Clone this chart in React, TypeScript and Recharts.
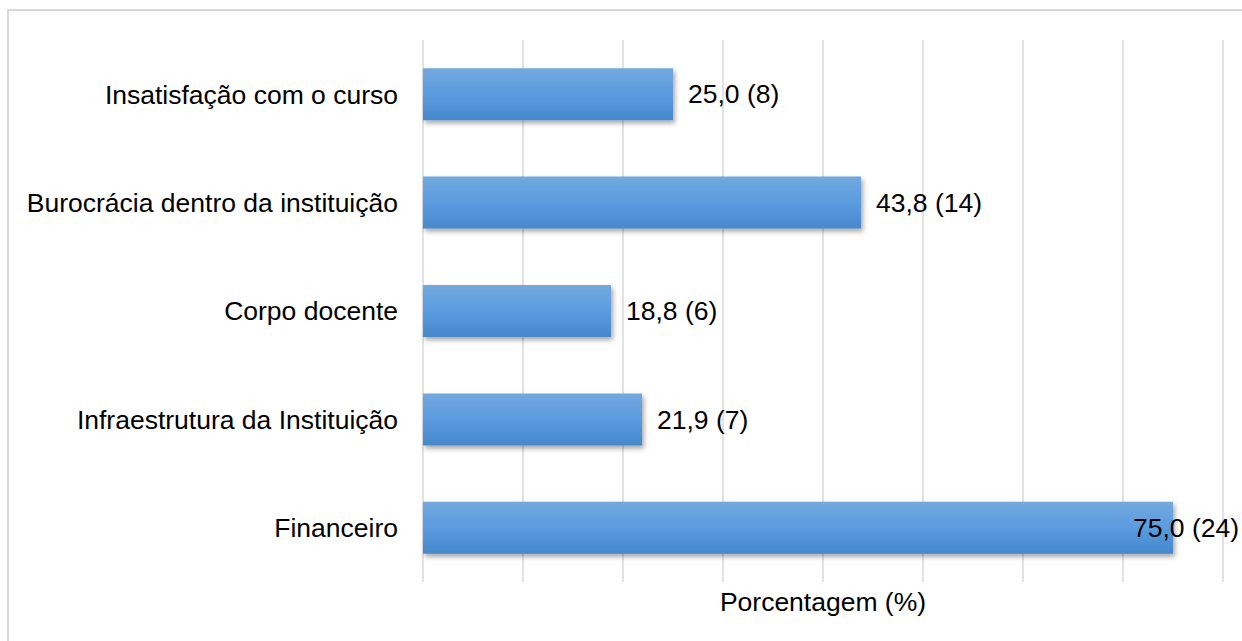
import { Bar, BarChart, CartesianGrid, LabelList, XAxis, YAxis } from "recharts";

const categories = [
  "Insatisfação com o curso",
  "Burocrácia dentro da instituição",
  "Corpo docente",
  "Infraestrutura da Instituição",
  "Financeiro",
];
const percentages = [25.0, 43.8, 18.8, 21.9, 75.0];
const counts = [8, 14, 6, 7, 24];
const xTicks = [0, 10, 20, 30, 40, 50, 60, 70, 80];
const xLabel = "Porcentagem (%)";

const chartData = categories.map((name, i) => ({
  name,
  value: percentages[i],
  count: counts[i],
}));

const fontFamily = "'Liberation Sans', Arial, sans-serif";
const fontSize = 26.5;
const chartWidth = 1234;
const chartHeight = 633;
// the longest label doesn't fit after the bar, so it gets pulled back over it
const labelMaxX = 1125;

function ValueLabel(props: any) {
  const { x, y, width, height, index } = props;
  const text = `${percentages[index].toFixed(1).replace(".", ",")} (${counts[index]})`;
  const tx = Math.min(x + width + 15, labelMaxX);
  return (
    <text
      x={tx}
      y={y + height / 2}
      dy="0.35em"
      fill="#000"
      fontSize={fontSize}
      fontFamily={fontFamily}
    >
      {text}
    </text>
  );
}

export default function App() {
  return (
    <div
      style={{
        position: "fixed",
        left: 0,
        top: 0,
        width: 1242,
        height: 641,
        overflow: "hidden",
        background: "#fff",
      }}
    >
      <div
        style={{
          position: "absolute",
          left: 7,
          top: 9,
          width: 1400,
          height: 800,
          border: "2px solid #d9d9d9",
          boxSizing: "border-box",
        }}
      />
      <div style={{ position: "absolute", left: 8, top: 8 }}>
        <BarChart
          width={chartWidth}
          height={chartHeight}
          data={chartData}
          layout="vertical"
          barCategoryGap="26%"
          margin={{ top: 32, right: 19, bottom: 0, left: 0 }}
        >
          <defs>
            <linearGradient id="barFill" x1="0" y1="0" x2="0" y2="1">
              <stop offset="0%" stopColor="#72a9de" />
              <stop offset="50%" stopColor="#5b9be0" />
              <stop offset="100%" stopColor="#4688cb" />
            </linearGradient>
            <filter id="barShadow" x="-5%" y="-20%" width="110%" height="160%">
              <feDropShadow dx="2" dy="3" stdDeviation="2.5" floodColor="#000" floodOpacity="0.35" />
            </filter>
          </defs>
          <CartesianGrid
            horizontal={false}
            stroke="#d9d9d9"
            strokeWidth={1.5}
            verticalValues={xTicks}
          />
          <XAxis
            type="number"
            domain={[0, 80]}
            ticks={xTicks}
            tick={() => <g />}
            tickLine={false}
            axisLine={false}
            height={59}
            label={{
              value: xLabel,
              position: "insideTop",
              offset: 10,
              fill: "#000",
              fontSize,
              fontFamily,
            }}
          />
          <YAxis
            type="category"
            dataKey="name"
            width={415}
            axisLine={false}
            tickLine={false}
            tickMargin={19}
            tick={{ fill: "#000", fontSize, fontFamily }}
          />
          <Bar
            dataKey="value"
            fill="url(#barFill)"
            filter="url(#barShadow)"
            isAnimationActive={false}
          >
            <LabelList dataKey="value" content={<ValueLabel />} />
          </Bar>
        </BarChart>
      </div>
    </div>
  );
}
